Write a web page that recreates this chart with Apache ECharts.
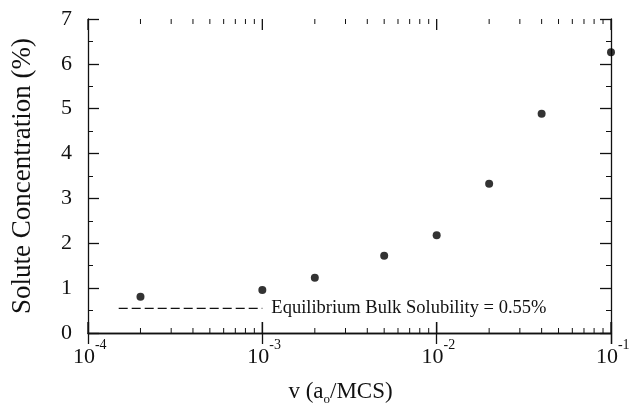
<!DOCTYPE html>
<html>
<head>
<meta charset="utf-8">
<script src="https://cdn.jsdelivr.net/npm/echarts@6/dist/echarts.min.js"></script>
<style>
  html, body { margin: 0; padding: 0; background: #fff; }
  #chart { width: 632px; height: 403px; }
</style>
</head>
<body>
<div id="chart"></div>
<script>
// measured points: velocity (a0/MCS) vs solute concentration (%)
const velocity = [2e-4, 1e-3, 2e-3, 5e-3, 1e-2, 2e-2, 4e-2, 1e-1];
const concentration = [0.81, 0.96, 1.23, 1.72, 2.18, 3.33, 4.89, 6.26];

// equilibrium bulk solubility reference line
const bulkX = [1.5e-4, 1e-3];
const bulkY = 0.55;
const bulkLabel = 'Equilibrium Bulk Solubility = 0.55%';

// log axis tick positions: decades and 2..9 x 10^k
const majorX = [1e-4, 1e-3, 1e-2, 1e-1];
const minorX = [];
[1e-4, 1e-3, 1e-2].forEach(d => {
  for (let k = 2; k <= 9; k++) minorX.push(+(k * d).toPrecision(3));
});

const FONT = '"Liberation Serif", "DejaVu Serif", serif';
const INK = '#111';

const chart = echarts.init(document.getElementById('chart'));

const sharedX = {
  type: 'log',
  logBase: 10,
  min: 1e-4,
  max: 1e-1,
  splitLine: { show: false },
  axisLine: { show: true, lineStyle: { color: INK, width: 1.3 } },
  axisTick: { show: true, inside: true, length: 11, lineStyle: { color: INK, width: 1.3 } }
};

const sharedY = {
  type: 'value',
  min: 0,
  max: 7,
  interval: 1,
  splitLine: { show: false },
  axisLine: { show: true, lineStyle: { color: INK, width: 1.3 } },
  axisTick: { show: true, inside: true, length: 11, lineStyle: { color: INK, width: 1.3 } },
  minorTick: { show: true, splitNumber: 2, length: 5, lineStyle: { color: INK, width: 1 } }
};

// short inward tick lines on bottom and top edges
function tickSeries(values, len, width) {
  return {
    type: 'custom',
    xAxisIndex: 0,
    yAxisIndex: 0,
    silent: true,
    clip: false,
    data: values.map(v => [v, 0]),
    renderItem(params, api) {
      const x = api.coord([api.value(0), 0])[0];
      const yb = api.coord([api.value(0), 0])[1];
      const yt = api.coord([api.value(0), 7])[1];
      const style = { stroke: INK, lineWidth: width };
      return {
        type: 'group',
        children: [
          { type: 'line', shape: { x1: x, y1: yb, x2: x, y2: yb - len }, style },
          { type: 'line', shape: { x1: x, y1: yt, x2: x, y2: yt + len }, style }
        ]
      };
    }
  };
}

chart.setOption({
  backgroundColor: '#fff',
  animation: false,
  grid: { left: 88, right: 21, top: 19, bottom: 70, outerBoundsMode: 'none', containLabel: false },
  xAxis: [
    Object.assign({}, sharedX, {
      position: 'bottom',
      name: '{t|v (a}{sub|o}{t|/MCS)}',
      nameLocation: 'middle',
      nameGap: 43,
      nameTextStyle: {
        padding: [0, 18, 0, 0],
        rich: {
          t: { fontFamily: FONT, fontSize: 23, color: INK },
          sub: { fontFamily: FONT, fontSize: 13, color: INK, padding: [14, 0, 0, 0] }
        }
      },
      axisLabel: {
        margin: 13,
        formatter: v => '{s| }{b|10}{s|' + Math.round(Math.log10(v)) + '}',
        rich: {
          b: { fontFamily: FONT, fontSize: 22, lineHeight: 22, color: INK },
          s: { fontFamily: FONT, fontSize: 14, lineHeight: 14, color: INK, padding: [0, 0, 24, 0] }
        }
      }
    }),
    Object.assign({}, sharedX, {
      position: 'top',
      axisLabel: { show: false }
    })
  ],
  yAxis: [
    Object.assign({}, sharedY, {
      position: 'left',
      name: 'Solute Concentration (%)',
      nameLocation: 'middle',
      nameGap: 52,
      nameTextStyle: { fontFamily: FONT, fontSize: 27, color: INK },
      axisLabel: { fontFamily: FONT, fontSize: 22, color: INK, margin: 16 }
    }),
    Object.assign({}, sharedY, {
      position: 'right',
      axisLabel: { show: false }
    })
  ],
  series: [
    tickSeries(majorX, 11, 1.3),
    tickSeries(minorX, 5, 1),
    {
      type: 'line',
      xAxisIndex: 0,
      yAxisIndex: 0,
      data: bulkX.map(x => [x, bulkY]),
      symbol: 'none',
      lineStyle: { color: INK, width: 1.3, type: [9, 4] },
      endLabel: {
        show: true,
        formatter: bulkLabel,
        fontFamily: FONT,
        fontSize: 18.5,
        color: INK,
        distance: 9
      }
    },
    {
      type: 'scatter',
      xAxisIndex: 0,
      yAxisIndex: 0,
      clip: false,
      symbol: 'circle',
      symbolSize: 8,
      itemStyle: { color: '#000' },
      data: velocity.map((x, i) => [x, concentration[i]])
    }
  ]
});
</script>
</body>
</html>
